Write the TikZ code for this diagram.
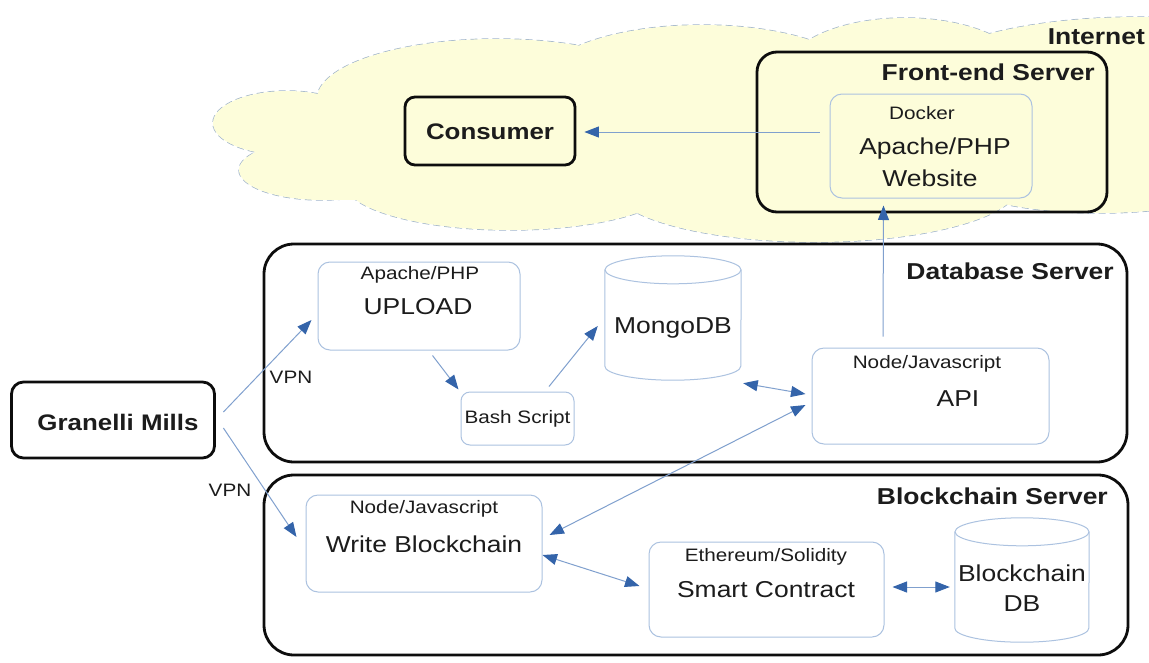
\documentclass[tikz,border=0pt]{standalone}
\usepackage{fontspec}
\setmainfont[FakeStretch=1.15]{Liberation Sans}
\usetikzlibrary{arrows.meta}

\definecolor{cloudfill}{RGB}{253,253,218}
\definecolor{clouddash}{RGB}{160,180,204}
\definecolor{innerline}{RGB}{172,194,224}
\definecolor{conline}{RGB}{128,160,206}
\definecolor{arrowblue}{RGB}{52,100,170}
\definecolor{txtcol}{RGB}{28,28,28}

\newcommand\bigtxt{\fontsize{23}{30}\selectfont}
\newcommand\smalltxt{\fontsize{18}{21}\selectfont}
\newcommand\titletxt{\fontsize{23}{27}\selectfont\bfseries}

\tikzset{
  blackbox/.style={draw=black!95, line width=2.8pt, rounded corners=#1, inner sep=0pt},
  innerbox/.style={draw=innerline, line width=1pt, rounded corners=12pt, inner sep=0pt},
  cylbody/.style={inner sep=0pt},
  cylline/.style={draw=innerline, line width=1pt},
  lbl/.style={text=txtcol, inner sep=0pt},
  tipp/.tip={Triangle[length=14.5pt,width=11pt,color=arrowblue]},
  conn/.style={draw=conline, line width=1pt, -tipp},
  dconn/.style={draw=conline, line width=1pt, tipp-tipp},
  lobe/.style={draw=clouddash, line width=1.4pt, dash pattern=on 7pt off 4pt},
}

\begin{document}
\begin{tikzpicture}[x=1pt,y=-1pt]
\useasboundingbox (0,0) rectangle (1149,662);

% ---------- cloud ----------
\begin{scope}
\clip (0,0) rectangle (1149,662);
\def\lobes{%
  (287,123) ellipse [x radius=74pt, y radius=32pt]
  (322,170) ellipse [x radius=83pt, y radius=30pt]
  (497,99) ellipse [x radius=180pt, y radius=60pt]
  (702,85) ellipse [x radius=163pt, y radius=60pt]
  (905,73) ellipse [x radius=120pt, y radius=55pt]
  (1140,77) ellipse [x radius=217pt, y radius=60pt]
  (510,183) ellipse [x radius=165pt, y radius=47pt]
  (815,185) ellipse [x radius=204pt, y radius=57pt]
  (1100,165) ellipse [x radius=165pt, y radius=48pt]
}
\draw[lobe] \lobes;
\fill[cloudfill] \lobes;
\fill[cloudfill] (320,100) rectangle (1149,200);
\end{scope}

% ---------- big containers ----------
\node[blackbox=20pt, minimum width=350pt, minimum height=160pt] (frontend) at (932,132) {};
\node[blackbox=10pt, minimum width=170pt, minimum height=68pt] (consumer) at (490,131) {};
\node[blackbox=30pt, fill=white, minimum width=863pt, minimum height=218pt] (dbserver) at (695.5,353) {};
\node[blackbox=30pt, fill=white, minimum width=864pt, minimum height=180pt] (bcserver) at (696,565) {};
\node[blackbox=12pt, fill=white, minimum width=203pt, minimum height=76pt] (granelli) at (113,420) {};

% ---------- titles ----------
\node[lbl, anchor=east] (internetlbl) at (1145,37) {\titletxt Internet};
\node[lbl, anchor=east] (fetitle) at (1095,72) {\titletxt Front-end Server};
\node[lbl, anchor=east] (dbtitle) at (1114,271) {\titletxt Database Server};
\node[lbl, anchor=east] (bctitle) at (1108,496) {\titletxt Blockchain Server};
\node[lbl] (consumerlbl) at (490,132) {\fontsize{22.5}{26}\selectfont\bfseries Consumer};
\node[lbl] (granellilbl) at (118,422) {\fontsize{22.5}{26}\selectfont\bfseries Granelli Mills};

% ---------- inner boxes ----------
\node[innerbox, minimum width=202pt, minimum height=104pt] (docker) at (931,146) {};
\node[lbl] (dockerlbl) at (922,113) {\smalltxt Docker};
\node[lbl] (apachelbl) at (935,149) {\bigtxt Apache/PHP};
\node[lbl] (websitelbl) at (930,178) {\bigtxt Website};

\node[innerbox, minimum width=202pt, minimum height=88pt] (upload) at (419,306) {};
\node[lbl] (uploadtag) at (420,275) {\smalltxt Apache/PHP};
\node[lbl] (uploadlbl) at (418,307) {\bigtxt UPLOAD};

\node[innerbox, rounded corners=9pt, minimum width=113pt, minimum height=53pt] (bash) at (517.5,418.5) {};
\node[lbl] (bashlbl) at (517.5,419) {\smalltxt Bash Script};

\node[innerbox, minimum width=237pt, minimum height=96pt] (api) at (930.5,396) {};
\node[lbl] (apitag) at (927,364) {\smalltxt Node/Javascript};
\node[lbl] (apilbl) at (958,399) {\bigtxt API};

\node[innerbox, minimum width=236pt, minimum height=97pt] (write) at (424,543.5) {};
\node[lbl] (writetag) at (424,509) {\smalltxt Node/Javascript};
\node[lbl] (writelbl) at (424,544) {\bigtxt Write Blockchain};

\node[innerbox, minimum width=235pt, minimum height=95pt] (smart) at (766.5,589.5) {};
\node[lbl] (smarttag) at (766,557) {\smalltxt Ethereum/Solidity};
\node[lbl] (smartlbl) at (766,590) {\bigtxt Smart Contract};

% ---------- cylinders ----------
\node[cylbody, minimum width=136pt, minimum height=124pt] (mongo) at (673,318) {};
\draw[cylline] ([yshift=-14pt]mongo.north west) -- ([yshift=14pt]mongo.south west)
  arc[start angle=180, end angle=360, x radius=68pt, y radius=14pt]
  -- ([yshift=-14pt]mongo.north east);
\draw[cylline] ([yshift=-14pt]mongo.north) ellipse [x radius=68pt, y radius=14pt];
\node[lbl] (mongolbl) at (673,328) {\bigtxt MongoDB};

\node[cylbody, minimum width=134pt, minimum height=124pt] (bcdb) at (1022,580) {};
\draw[cylline] ([yshift=-14pt]bcdb.north west) -- ([yshift=14pt]bcdb.south west)
  arc[start angle=180, end angle=360, x radius=67pt, y radius=14pt]
  -- ([yshift=-14pt]bcdb.north east);
\draw[cylline] ([yshift=-14pt]bcdb.north) ellipse [x radius=67pt, y radius=14pt];
\node[lbl, align=center, font=\bigtxt] (bcdblbl) at (1022,588) {Blockchain\\DB};

% ---------- connectors ----------
\draw[conn] ([xshift=-10pt, yshift=14pt]docker.west) -- ([xshift=8pt, yshift=-1pt]consumer.east);
\draw[conn] ([xshift=-47.5pt, yshift=11pt]api.north) -- ([xshift=-47.5pt, yshift=-7pt]docker.south);
\draw[conn] ([xshift=7.5pt, yshift=8pt]granelli.east) -- ([xshift=-6pt, yshift=-14pt]upload.west);
\node[lbl] (vpnone) at (291,377) {\smalltxt VPN};
\draw[conn] ([xshift=7.5pt, yshift=-8pt]granelli.east) -- ([xshift=-9pt, yshift=6.5pt]write.west);
\node[lbl] (vpntwo) at (230,490) {\smalltxt VPN};
\draw[conn] ([xshift=13.5pt, yshift=-5pt]upload.south) -- ([xshift=-2pt, yshift=2pt]bash.north west);
\draw[conn] ([xshift=31.5pt, yshift=5pt]bash.north) -- ([xshift=-7pt, yshift=-8pt]mongo.west);
\draw[dconn] ([xshift=2pt, yshift=-3pt]mongo.south east) -- ([xshift=-6pt, yshift=2pt]api.west);
\draw[dconn] ([xshift=-6pt, yshift=-9pt]api.west) -- ([xshift=7pt, yshift=8.5pt]write.east);
\draw[dconn] ([yshift=-11.5pt]write.east) -- ([xshift=-9pt, yshift=3.5pt]smart.west);
\draw[dconn] ([xshift=8pt, yshift=2.5pt]smart.east) -- ([xshift=-5pt, yshift=-7pt]bcdb.west);
\end{tikzpicture}
\end{document}
